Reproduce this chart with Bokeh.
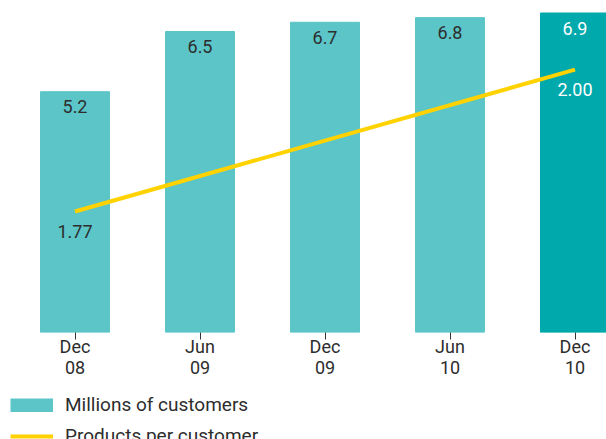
from bokeh.plotting import figure
from bokeh.layouts import column
from bokeh.models import ColumnDataSource, Range1d, Legend, LegendItem, FixedTicker
from bokeh.core.properties import value
from bokeh.embed import file_html
from bokeh.resources import INLINE

periods = ["Dec\n08", "Jun\n09", "Dec\n09", "Jun\n10", "Dec\n10"]
customers = [5.2, 6.5, 6.7, 6.8, 6.9]
customer_labels = ["5.2", "6.5", "6.7", "6.8", "6.9"]
bar_colors = ["#5BC5C8", "#5BC5C8", "#5BC5C8", "#5BC5C8", "#00A9AB"]
label_colors = ["#2d2d2d", "#2d2d2d", "#2d2d2d", "#2d2d2d", "#ffffff"]

line_periods = ["Dec\n08", "Dec\n10"]
products = [1.77, 2.00]
product_labels = ["1.77", "2.00"]
product_label_colors = ["#2d2d2d", "#ffffff"]

legend_labels = ["Millions of customers", "Products per customer"]

FONT = "Roboto"
BAR = "#5BC5C8"
LINE = "#FFD200"

pos = list(range(len(periods)))
line_pos = [periods.index(s) for s in line_periods]

bars = ColumnDataSource(dict(x=pos, top=customers, label=customer_labels,
                             color=bar_colors, tcolor=label_colors))
line = ColumnDataSource(dict(x=line_pos, y=products, label=product_labels,
                             tcolor=product_label_colors))

p = figure(x_range=Range1d(-0.596, 4.252),
           y_range=Range1d(0, 7.17),
           frame_width=606, frame_height=332,
           output_backend="svg", toolbar_location=None,
           min_border_left=0, min_border_right=0, min_border_top=0,
           min_border_bottom=45, y_axis_location=None)
p.extra_y_ranges = {"ppc": Range1d(1.574, 2.112)}

vb = p.vbar(x="x", top="top", width=0.552, color="color", source=bars)
p.text(x="x", y="top", text="label", source=bars, text_color="tcolor",
       text_align="center", text_baseline="middle", y_offset=15,
       text_font=value(FONT), text_font_size="18px")

ln = p.line(x="x", y="y", source=line, y_range_name="ppc",
            line_color=LINE, line_width=4)
p.text(x="x", y="y", text="label", source=line, y_range_name="ppc",
       text_color="tcolor", text_align="center", text_baseline="middle",
       y_offset=20, text_font=value(FONT), text_font_size="18px")

p.xgrid.grid_line_color = None
p.ygrid.grid_line_color = None
p.outline_line_color = None
p.background_fill_color = "white"
p.border_fill_color = "white"

ax = p.xaxis[0]
ax.ticker = FixedTicker(ticks=pos)
ax.major_label_overrides = {i: s for i, s in zip(pos, periods)}
ax.axis_line_color = None
ax.major_tick_in = 0
ax.major_tick_out = 7
ax.minor_tick_line_color = None
ax.major_tick_line_color = "#333333"
ax.major_tick_line_width = 1
ax.major_label_standoff = -4
ax.major_label_text_font = FONT
ax.major_label_text_font_size = "18px"
ax.major_label_text_color = "#2d2d2d"
ax.major_label_text_line_height = 1.0

# legend strip under the chart (its view range lies away from the data,
# so the proxy renderers only feed the legend swatches)
lf = figure(width=606, height=62, x_range=Range1d(100, 101), y_range=Range1d(100, 101),
            output_backend="svg", toolbar_location=None,
            min_border_left=0, min_border_right=0, min_border_top=0,
            min_border_bottom=0, x_axis_location=None, y_axis_location=None)
lf.xgrid.grid_line_color = None
lf.ygrid.grid_line_color = None
lf.outline_line_color = None
lb = lf.line(x="x", y="top", source=bars, line_color=BAR, line_width=14)
ll = lf.line(x="x", y="y", source=line, line_color=LINE, line_width=4)

legend = Legend(items=[LegendItem(label=legend_labels[0], renderers=[lb]),
                       LegendItem(label=legend_labels[1], renderers=[ll])],
                orientation="vertical", location=(10, -5),
                border_line_color=None, background_fill_alpha=0,
                glyph_width=43, glyph_height=14, label_standoff=12,
                label_text_font=FONT, label_text_font_size="19px",
                label_text_color="#2d2d2d", label_height=20,
                spacing=8, padding=0, margin=0)
lf.add_layout(legend)

layout = column(p, lf, spacing=0)
open("out.html", "w").write(file_html(layout, INLINE))
